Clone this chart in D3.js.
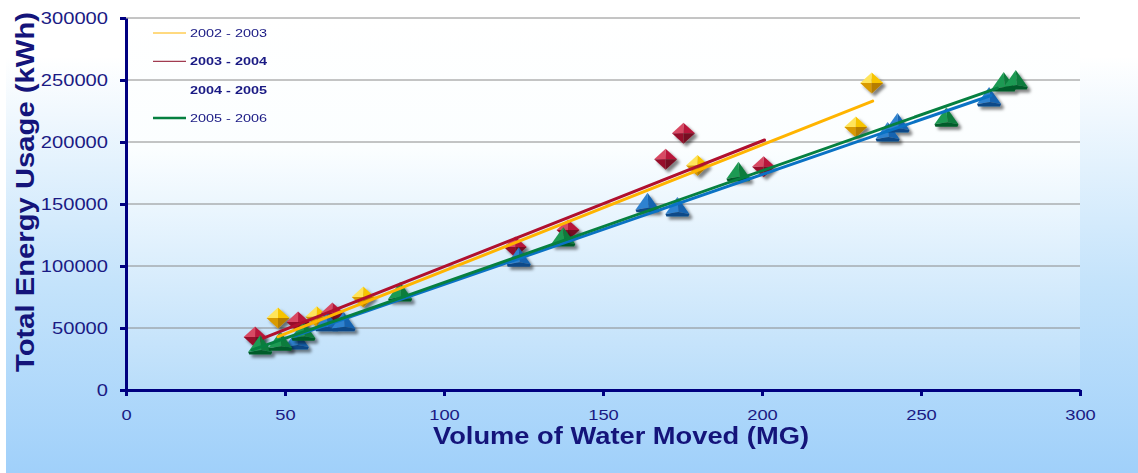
<!DOCTYPE html>
<html>
<head>
<meta charset="utf-8">
<script src="https://cdn.jsdelivr.net/npm/d3@7/dist/d3.min.js"></script>
<style>
  html,body{margin:0;padding:0;background:#fff;}
  svg{display:block;font-family:"Liberation Sans",Arial,sans-serif;}
</style>
</head>
<body>
<div id="chart"></div>
<script>
// values
const seriesNames = ['2002 - 2003', '2003 - 2004', '2004 - 2005', '2005 - 2006'];
const xTicks = [0, 50, 100, 150, 200, 250, 300];
const yTicks = [0, 50000, 100000, 150000, 200000, 250000, 300000];

const pts0203 = [[47.8,58000],[60,59000],[74.6,75000],[179.7,181000],[229.5,212000],[234.5,247500]];
const pts0304 = [[40.6,42700],[54.1,54800],[64.9,62000],[122.4,115300],[139,129000],[169.7,186000],[175.3,207000],[200.5,180000]];
const pts0405 = [[53.7,40300],[63.2,55100],[68.4,55000],[123.5,107000],[164,151000],[173.4,147600],[239.5,208000],[242.6,215300],[271.4,236300]];
const pts0506 = [[42.2,36300],[48.5,39300],[55.8,47400],[86.2,79000],[137.5,123400],[192.6,176000],[258,220000],[276,248400],[279.8,250000]];

// trend line end points
const trend0203 = [[47.8,43000],[234.8,233000]];
const trend0304 = [[43.2,41900],[200.8,201600]];
const trend0405 = [[53,43500],[272,237500]];
const trend0506 = [[39.7,32300],[274,243500]];

const W = 1138, H = 473;
const navy = '#000080', txt = '#1a1a84';

const series = [
  {name:seriesNames[0], pts:pts0203, trend:trend0203, shape:'diamond', line:'#ffb400', legend:'#ffb400', lw:1, bold:false,
   shades:['#ffe45a','#f7c400','#d99a00','#b57d00']},
  {name:seriesNames[1], pts:pts0304, trend:trend0304, shape:'diamond', line:'#b0102e', legend:'#8a0a25', lw:1, bold:true,
   shades:['#d84a64','#b8193a','#96102c','#760a20']},
  {name:seriesNames[2], pts:pts0405, trend:trend0405, shape:'triangle', line:'#0a72c4', legend:null, lw:0, bold:true,
   shades:['#2f82d0','#1464b0','#0b4a88']},
  {name:seriesNames[3], pts:pts0506, trend:trend0506, shape:'triangle', line:'#068040', legend:'#068040', lw:2.5, bold:false,
   shades:['#1f9a52','#0b7c3c','#055c2a']}
];

const svg = d3.select('#chart').append('svg').attr('width', W).attr('height', H);
const defs = svg.append('defs');

const bg = defs.append('linearGradient').attr('id','bg').attr('x1',0).attr('y1',0).attr('x2',0).attr('y2',1);
bg.append('stop').attr('offset','0%').attr('stop-color','#ffffff');
bg.append('stop').attr('offset','12%').attr('stop-color','#ffffff');
bg.append('stop').attr('offset','60%').attr('stop-color','#c4e3fb');
bg.append('stop').attr('offset','100%').attr('stop-color','#a0d0fa');

const pg = defs.append('linearGradient').attr('id','pg').attr('x1',0).attr('y1',0).attr('x2',0).attr('y2',1);
pg.append('stop').attr('offset','0%').attr('stop-color','#ffffff');
pg.append('stop').attr('offset','35%').attr('stop-color','#fbfeff');
pg.append('stop').attr('offset','100%').attr('stop-color','#b9ddfa');

const sh = defs.append('filter').attr('id','shadow').attr('x','-50%').attr('y','-50%').attr('width','220%').attr('height','220%');
sh.append('feDropShadow').attr('dx',3).attr('dy',3).attr('stdDeviation',1.8)
  .attr('flood-color','#000').attr('flood-opacity',0.5);

const x = d3.scaleLinear().domain([0,300]).range([126,1080]);
const y = d3.scaleLinear().domain([0,300000]).range([390,18]);

// backgrounds
svg.append('rect').attr('x',6).attr('y',0).attr('width',W-6).attr('height',H).attr('fill','url(#bg)');
svg.append('rect').attr('x',x(0)).attr('y',y(300000)).attr('width',x(300)-x(0)).attr('height',y(0)-y(300000))
  .attr('fill','url(#pg)');

// grid
svg.append('g').selectAll('line').data(yTicks.filter(d=>d>0)).enter().append('line')
  .attr('x1',x(0)).attr('x2',x(300)).attr('y1',d=>y(d)).attr('y2',d=>y(d))
  .attr('stroke','#8a8a8a').attr('stroke-width',1);

// markers
function marker(g, s){
  const c = s.shades;
  if(s.shape==='diamond'){
    const a=11.5, b=10.5;
    g.append('path').attr('d',`M0,0L${-a},0L0,${-b}Z`).attr('fill',c[0]);
    g.append('path').attr('d',`M0,0L0,${-b}L${a},0Z`).attr('fill',c[1]);
    g.append('path').attr('d',`M0,0L${-a},0L0,${b}Z`).attr('fill',c[2]);
    g.append('path').attr('d',`M0,0L${a},0L0,${b}Z`).attr('fill',c[3]);
  } else {
    g.append('path').attr('d','M0,-10L-12,7L1,5Z').attr('fill',c[0]);
    g.append('path').attr('d','M0,-10L1,5L12,7Z').attr('fill',c[1]);
    g.append('path').attr('d','M-12,7L1,5L12,7L11,9.5L-11,9.5Z').attr('fill',c[2]);
  }
}

series.forEach(s=>{
  const gs = svg.append('g').attr('filter','url(#shadow)');
  s.pts.forEach(p=>{
    const g = gs.append('g').attr('transform',`translate(${x(p[0])},${y(p[1])})`);
    marker(g, s);
  });
});

// trend lines
const line = d3.line().x(d=>x(d[0])).y(d=>y(d[1]));
series.forEach(s=>{
  svg.append('path').attr('d',line(s.trend)).attr('fill','none')
    .attr('stroke',s.line).attr('stroke-width',3).attr('stroke-linecap','round');
});

// axes
function styleAxis(g, perDigit, size){
  g.select('.domain').attr('stroke',navy).attr('stroke-width',3);
  g.selectAll('.tick line').attr('stroke',navy).attr('stroke-width',3);
  g.selectAll('.tick text').attr('fill',txt).attr('font-size',size)
    .attr('font-family','"Liberation Sans",Arial,sans-serif')
    .attr('textLength',function(){ return this.textContent.length*perDigit; })
    .attr('lengthAdjust','spacingAndGlyphs');
}
const ya = svg.append('g').attr('transform',`translate(${x(0)},0)`)
  .call(d3.axisLeft(y).tickValues(yTicks).tickFormat(d3.format('d')).tickSizeInner(6).tickSizeOuter(0).tickPadding(12));
styleAxis(ya, 11.2, 17);
const xa = svg.append('g').attr('transform',`translate(0,${y(0)})`)
  .call(d3.axisBottom(x).tickValues(xTicks).tickFormat(d3.format('d')).tickSizeInner(6).tickSizeOuter(0).tickPadding(14));
styleAxis(xa, 10.2, 14);

// axis titles
svg.append('text').attr('transform',`translate(34,192) rotate(-90)`).attr('text-anchor','middle')
  .attr('font-size',25).attr('font-weight','bold').attr('fill','#14147a')
  .attr('textLength',360).attr('lengthAdjust','spacingAndGlyphs').text('Total Energy Usage (kWh)');
svg.append('text').attr('x',433).attr('y',444)
  .attr('font-size',24).attr('font-weight','bold').attr('fill','#14147a')
  .attr('textLength',376).attr('lengthAdjust','spacingAndGlyphs').text('Volume of Water Moved (MG)');

// legend
const lg = svg.append('g');
series.forEach((s,i)=>{
  const ly = 33 + i*28.3;
  if(s.legend) lg.append('line').attr('x1',153).attr('x2',186).attr('y1',ly).attr('y2',ly)
    .attr('stroke',s.legend).attr('stroke-width',s.lw);
  lg.append('text').attr('x',190).attr('y',ly+4).attr('font-size',11).attr('fill',txt)
    .attr('font-weight', s.bold ? 'bold' : 'normal')
    .attr('textLength',77).attr('lengthAdjust','spacingAndGlyphs').text(s.name);
});
</script>
</body>
</html>
